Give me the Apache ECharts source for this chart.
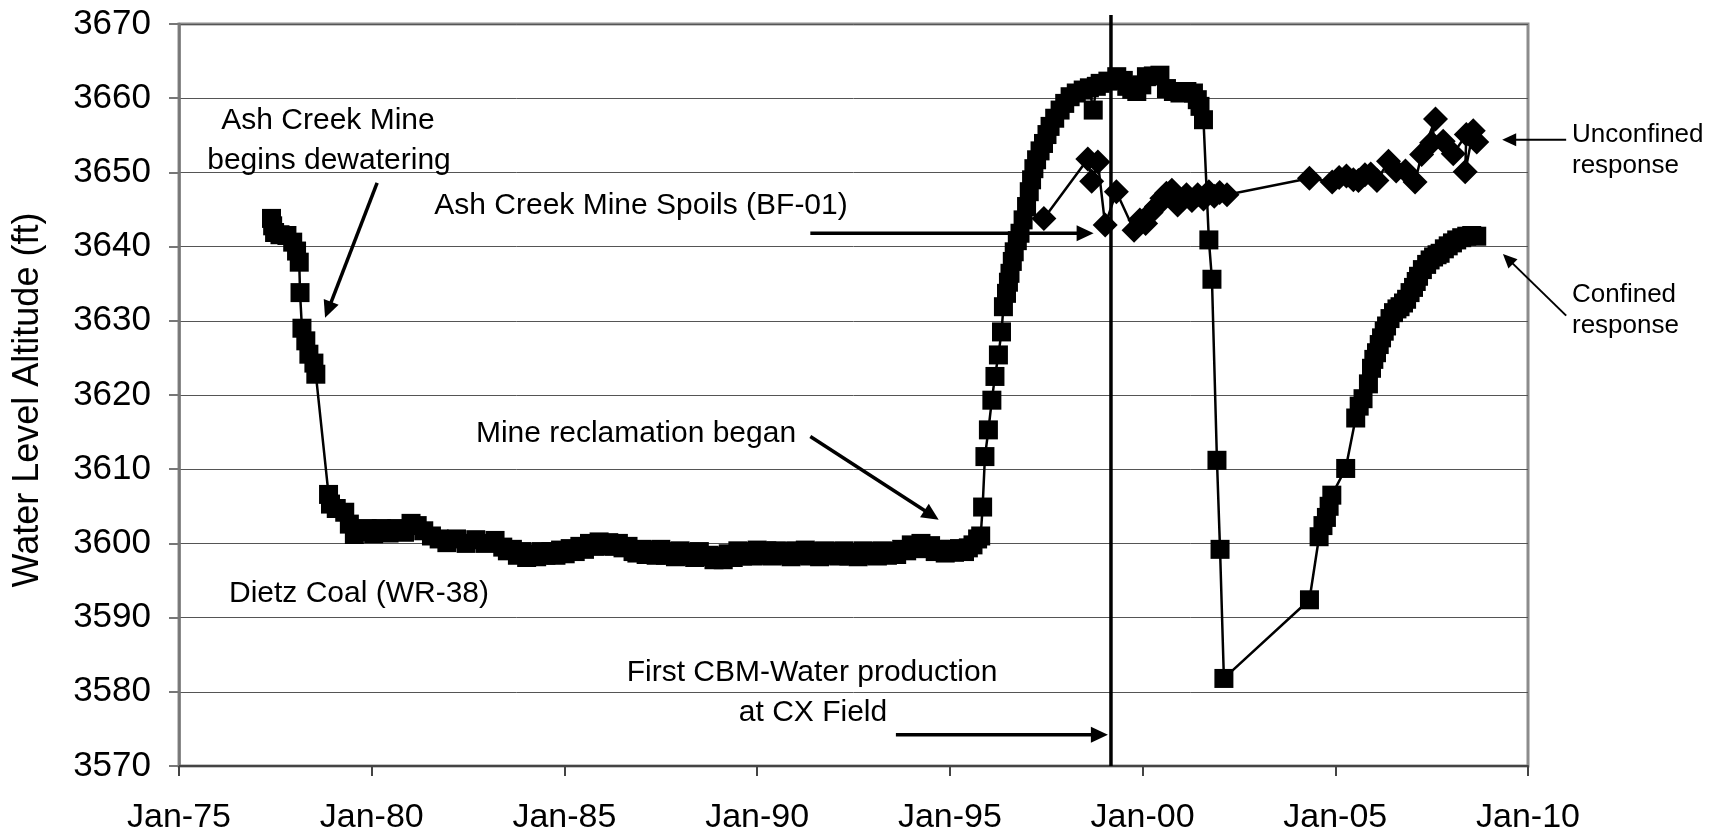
<!DOCTYPE html>
<html>
<head>
<meta charset="utf-8">
<title>Water Level Altitude - Dietz Coal and Ash Creek Mine Spoils</title>
<script src="https://cdn.jsdelivr.net/npm/echarts@6/dist/echarts.min.js"></script>
<style>
    html, body { margin: 0; padding: 0; background: #fff; }
    #chart { width: 1725px; height: 835px; }
</style>
</head>
<body>
<div id="chart"></div>
<script>
// Dietz Coal (WR-38): [decimal year, water level altitude ft]
const dietzCoal = [
    [1977.40, 3643.8], [1977.43, 3642.8], [1977.48, 3641.9], [1977.62, 3641.6], [1977.80, 3641.5],
    [1977.95, 3640.6], [1978.05, 3639.4], [1978.12, 3637.9], [1978.14, 3633.8], [1978.19, 3629.0],
    [1978.29, 3627.3], [1978.37, 3625.5], [1978.50, 3624.3], [1978.55, 3622.8], [1978.88, 3606.6],
    [1978.93, 3605.3], [1979.08, 3604.7], [1979.30, 3604.2], [1979.42, 3602.6], [1979.55, 3601.2],
    [1979.70, 3601.6], [1979.88, 3602.0], [1980.05, 3601.3], [1980.25, 3602.0], [1980.45, 3601.4],
    [1980.65, 3602.0], [1980.85, 3601.5], [1981.02, 3602.7], [1981.18, 3602.4], [1981.35, 3601.7],
    [1981.55, 3601.0], [1981.75, 3600.6], [1981.95, 3600.1], [1982.20, 3600.6], [1982.45, 3600.0],
    [1982.70, 3600.5], [1982.95, 3600.0], [1983.20, 3600.4], [1983.40, 3599.5], [1983.52, 3599.0],
    [1983.65, 3599.2], [1983.78, 3598.4], [1983.90, 3598.9], [1984.02, 3598.1], [1984.15, 3598.6],
    [1984.28, 3598.2], [1984.40, 3598.9], [1984.52, 3598.4], [1984.65, 3598.9], [1984.78, 3598.4],
    [1984.90, 3599.1], [1985.02, 3598.6], [1985.15, 3599.3], [1985.28, 3598.9], [1985.40, 3599.6],
    [1985.52, 3599.2], [1985.65, 3600.0], [1985.78, 3599.6], [1985.90, 3600.2], [1986.02, 3599.7],
    [1986.15, 3600.1], [1986.28, 3599.6], [1986.40, 3600.0], [1986.52, 3599.4], [1986.65, 3599.6],
    [1986.78, 3598.9], [1986.88, 3598.7], [1987.00, 3599.2], [1987.12, 3598.5], [1987.25, 3599.1],
    [1987.38, 3598.4], [1987.50, 3599.2], [1987.62, 3598.4], [1987.75, 3598.9], [1987.88, 3598.2],
    [1988.00, 3599.0], [1988.12, 3598.3], [1988.25, 3598.8], [1988.38, 3598.1], [1988.50, 3598.9],
    [1988.62, 3598.2], [1988.75, 3598.4], [1988.88, 3597.8], [1989.00, 3598.3], [1989.12, 3597.8],
    [1989.25, 3598.6], [1989.38, 3598.1], [1989.50, 3599.0], [1989.62, 3598.3], [1989.75, 3598.9],
    [1989.88, 3598.3], [1990.00, 3599.1], [1990.12, 3598.4], [1990.25, 3599.0], [1990.38, 3598.3],
    [1990.50, 3599.0], [1990.62, 3598.4], [1990.75, 3598.9], [1990.88, 3598.2], [1991.00, 3599.0],
    [1991.12, 3598.4], [1991.25, 3599.1], [1991.38, 3598.3], [1991.50, 3598.9], [1991.62, 3598.2],
    [1991.75, 3599.0], [1991.88, 3598.4], [1992.00, 3598.9], [1992.12, 3598.3], [1992.25, 3599.0],
    [1992.38, 3598.3], [1992.50, 3598.8], [1992.62, 3598.2], [1992.75, 3599.0], [1992.88, 3598.4],
    [1993.00, 3598.9], [1993.12, 3598.3], [1993.25, 3599.0], [1993.38, 3598.4], [1993.50, 3598.9],
    [1993.62, 3598.5], [1993.75, 3599.2], [1993.88, 3599.0], [1994.00, 3599.8], [1994.12, 3599.3],
    [1994.25, 3600.0], [1994.38, 3599.3], [1994.50, 3599.7], [1994.62, 3598.9], [1994.75, 3599.2],
    [1994.88, 3598.7], [1995.00, 3599.2], [1995.12, 3598.8], [1995.25, 3599.3], [1995.38, 3598.9],
    [1995.48, 3599.4], [1995.60, 3599.8], [1995.72, 3600.6], [1995.80, 3601.0], [1995.85, 3604.9],
    [1995.91, 3611.7], [1996.00, 3615.3], [1996.09, 3619.3], [1996.17, 3622.5], [1996.26, 3625.4],
    [1996.34, 3628.5], [1996.39, 3631.9], [1996.47, 3633.7], [1996.52, 3635.2], [1996.56, 3636.4],
    [1996.62, 3638.0], [1996.67, 3639.3], [1996.75, 3640.8], [1996.82, 3641.8], [1996.90, 3643.6],
    [1996.99, 3645.4], [1997.06, 3647.4], [1997.12, 3649.0], [1997.18, 3650.5], [1997.25, 3651.7],
    [1997.34, 3652.9], [1997.43, 3653.9], [1997.52, 3655.1], [1997.60, 3656.2], [1997.72, 3657.3],
    [1997.86, 3658.4], [1997.98, 3659.3], [1998.12, 3660.2], [1998.28, 3660.7], [1998.46, 3661.1],
    [1998.62, 3661.4], [1998.72, 3658.4], [1998.80, 3661.6], [1998.90, 3662.0], [1999.10, 3662.3],
    [1999.33, 3662.9], [1999.50, 3662.4], [1999.59, 3661.6], [1999.72, 3661.2], [1999.85, 3660.9],
    [1999.98, 3661.8], [2000.10, 3662.9], [2000.28, 3663.0], [2000.45, 3663.1], [2000.62, 3661.3],
    [2000.80, 3660.9], [2000.97, 3660.7], [2001.15, 3660.9], [2001.32, 3660.7], [2001.42, 3659.8],
    [2001.49, 3658.9], [2001.58, 3657.1], [2001.72, 3640.9], [2001.80, 3635.6], [2001.93, 3611.2],
    [2002.01, 3599.2], [2002.11, 3581.8], [2004.33, 3592.4], [2004.58, 3600.9], [2004.68, 3602.4],
    [2004.77, 3603.5], [2004.84, 3605.0], [2004.91, 3606.5], [2005.27, 3610.1], [2005.53, 3616.9],
    [2005.62, 3618.5], [2005.72, 3619.5], [2005.86, 3621.5], [2005.94, 3623.6], [2006.00, 3624.8],
    [2006.07, 3625.7], [2006.14, 3626.8], [2006.20, 3627.7], [2006.27, 3628.6], [2006.33, 3629.3],
    [2006.42, 3630.3], [2006.51, 3631.1], [2006.60, 3631.6], [2006.68, 3631.9], [2006.77, 3632.4],
    [2006.85, 3632.9], [2006.94, 3633.8], [2007.03, 3634.5], [2007.10, 3635.3], [2007.16, 3636.0],
    [2007.26, 3636.9], [2007.37, 3637.6], [2007.46, 3638.2], [2007.55, 3638.6], [2007.64, 3638.9],
    [2007.72, 3639.1], [2007.83, 3639.7], [2007.93, 3640.1], [2008.04, 3640.5], [2008.15, 3640.9],
    [2008.28, 3641.2], [2008.41, 3641.4], [2008.54, 3641.5], [2008.67, 3641.4]
];

// Ash Creek Mine Spoils (BF-01): [decimal year, water level altitude ft]
const mineSpoils = [
    [1997.44, 3643.8], [1998.58, 3651.8], [1998.68, 3648.8], [1998.84, 3651.4], [1999.03, 3642.9],
    [1999.32, 3647.4], [1999.78, 3642.2], [1999.93, 3643.6], [2000.08, 3643.1], [2000.22, 3644.6],
    [2000.36, 3645.4], [2000.50, 3646.5], [2000.62, 3647.2], [2000.76, 3647.6], [2000.91, 3645.6],
    [2001.05, 3646.4], [2001.14, 3647.0], [2001.28, 3646.2], [2001.43, 3647.0], [2001.58, 3646.4],
    [2001.72, 3647.4], [2001.86, 3646.8], [2002.00, 3647.3], [2002.19, 3647.0], [2004.33, 3649.2],
    [2004.92, 3648.7], [2005.10, 3649.3], [2005.29, 3649.5], [2005.47, 3649.0], [2005.60, 3648.9],
    [2005.77, 3649.7], [2005.92, 3649.8], [2006.08, 3648.9], [2006.38, 3651.5], [2006.58, 3650.2],
    [2006.82, 3650.2], [2007.07, 3648.7], [2007.24, 3652.4], [2007.60, 3657.2], [2007.50, 3654.0],
    [2007.80, 3654.2], [2008.06, 3652.5], [2008.40, 3655.1], [2008.37, 3650.1], [2008.58, 3655.6],
    [2008.67, 3654.1]
];

// first CBM-water production at CX Field (decimal year)
const cbmStartYear = 1999.18;
const cbmLineRange = [3570, 3671.2];

const xTickLabels = ['Jan-75', 'Jan-80', 'Jan-85', 'Jan-90', 'Jan-95', 'Jan-00', 'Jan-05', 'Jan-10'];

const FONT = '"Liberation Sans", Arial, Helvetica, sans-serif';

const chart = echarts.init(document.getElementById('chart'));

chart.setOption({
    animation: false,
    backgroundColor: '#fff',
    grid: {
        left: 179,
        right: 197,
        top: 24,
        bottom: 69,
        show: true,
        borderColor: '#8c8c8c',
        borderWidth: 3,
        backgroundColor: 'transparent'
    },
    xAxis: {
        type: 'value',
        min: 1975,
        max: 2010,
        interval: 5,
        axisLine: { show: true, onZero: false, lineStyle: { color: '#444', width: 2 } },
        axisTick: { show: true, length: 10, lineStyle: { color: '#444', width: 2 } },
        axisLabel: {
            margin: 35,
            fontSize: 34,
            fontFamily: FONT,
            color: '#000',
            formatter: v => xTickLabels[Math.round((v - 1975) / 5)]
        },
        splitLine: { show: false }
    },
    yAxis: {
        type: 'value',
        min: 3570,
        max: 3670,
        interval: 10,
        axisLine: { show: true, lineStyle: { color: '#777', width: 2.5 } },
        axisTick: { show: true, length: 10, lineStyle: { color: '#777', width: 2 } },
        axisLabel: {
            margin: 28,
            fontSize: 35,
            fontFamily: FONT,
            color: '#000',
            formatter: v => String(v)
        },
        splitLine: { lineStyle: { color: '#555', width: 1 } }
    },
    series: [
        {
            name: 'Dietz Coal (WR-38)',
            type: 'line',
            data: dietzCoal,
            symbol: 'rect',
            symbolSize: 19,
            showAllSymbol: true,
            lineStyle: { color: '#000', width: 2.5 },
            itemStyle: { color: '#000' },
            z: 3
        },
        {
            name: 'Ash Creek Mine Spoils (BF-01)',
            type: 'line',
            data: mineSpoils,
            symbol: 'diamond',
            symbolSize: 25,
            showAllSymbol: true,
            lineStyle: { color: '#000', width: 2.5 },
            itemStyle: { color: '#000' },
            z: 4
        },
        {
            name: 'CBM start',
            type: 'line',
            data: cbmLineRange.map(v => [cbmStartYear, v]),
            symbol: 'none',
            clip: false,
            silent: true,
            lineStyle: { color: '#000', width: 3.5 },
            z: 5
        }
    ]
});

// 注释箭头（数据坐标）
const arrows = [
    { from: [1980.14, 3648.6], to: [1978.79, 3630.4], w: 3.5, head: 17, half: 8 },
    { from: [1991.38, 3641.8], to: [1998.73, 3641.8], w: 3.5, head: 17, half: 8 },
    { from: [1991.38, 3614.4], to: [1994.71, 3603.2], w: 3.5, head: 17, half: 8 },
    { from: [1993.60, 3574.2], to: [1999.10, 3574.2], w: 3.5, head: 17, half: 8 },
    { from: [2010.99, 3654.4], to: [2009.33, 3654.4], w: 2, head: 14, half: 6.5 },
    { from: [2010.99, 3630.7], to: [2009.35, 3639.0], w: 2, head: 14, half: 6.5 }
];

// 注释文字（像素位置）
const notes = [
    { text: 'Ash Creek Mine', x: 328, y: 121, size: 30, align: 'center' },
    { text: 'begins dewatering', x: 329, y: 161, size: 30, align: 'center' },
    { text: 'Ash Creek Mine Spoils (BF-01)', x: 641, y: 206, size: 30, align: 'center' },
    { text: 'Mine reclamation began', x: 636, y: 434, size: 30, align: 'center' },
    { text: 'Dietz Coal (WR-38)', x: 359, y: 594, size: 30, align: 'center' },
    { text: 'First CBM-Water production', x: 812, y: 673, size: 30, align: 'center' },
    { text: 'at CX Field', x: 813, y: 713, size: 30, align: 'center' },
    { text: 'Unconfined', x: 1572, y: 135, size: 26, align: 'left' },
    { text: 'response', x: 1572, y: 166, size: 26, align: 'left' },
    { text: 'Confined', x: 1572, y: 295, size: 26, align: 'left' },
    { text: 'response', x: 1572, y: 326, size: 26, align: 'left' }
];

function toPx(p) {
    return chart.convertToPixel({ xAxisIndex: 0, yAxisIndex: 0 }, p);
}

function arrowElements(a) {
    const p0 = toPx(a.from);
    const p1 = toPx(a.to);
    const dx = p1[0] - p0[0];
    const dy = p1[1] - p0[1];
    const len = Math.hypot(dx, dy);
    const ux = dx / len, uy = dy / len;
    const bx = p1[0] - ux * a.head, by = p1[1] - uy * a.head;
    const nx = -uy * a.half, ny = ux * a.half;
    return [
        {
            type: 'line',
            shape: { x1: p0[0], y1: p0[1], x2: bx + ux * 2, y2: by + uy * 2 },
            style: { stroke: '#000', lineWidth: a.w },
            z: 10
        },
        {
            type: 'polygon',
            shape: { points: [[p1[0], p1[1]], [bx + nx, by + ny], [bx - nx, by - ny]] },
            style: { fill: '#000' },
            z: 10
        }
    ];
}

const graphics = [];
arrows.forEach(a => graphics.push(...arrowElements(a)));
notes.forEach(n => graphics.push({
    type: 'text',
    x: n.x,
    y: n.y,
    style: {
        text: n.text,
        font: n.size + 'px ' + FONT,
        fill: '#000',
        align: n.align,
        verticalAlign: 'middle'
    },
    z: 10
}));

// y 轴标题
graphics.push({
    type: 'text',
    x: 28,
    y: 400,
    rotation: Math.PI / 2,
    style: {
        text: 'Water Level Altitude (ft)',
        font: '36px ' + FONT,
        fill: '#000',
        align: 'center',
        verticalAlign: 'middle'
    },
    z: 10
});

chart.setOption({ graphic: graphics });
</script>
</body>
</html>
